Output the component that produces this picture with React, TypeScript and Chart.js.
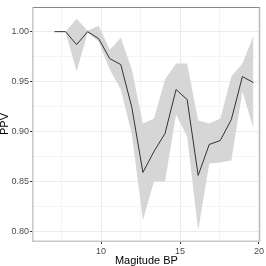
import React, { useEffect, useRef } from "react";
import { Chart, registerables } from "chart.js";

Chart.register(...registerables);

const magnitude = [7.05, 7.75, 8.45, 9.15, 9.85, 10.55, 11.25, 11.95, 12.65, 13.35, 14.05, 14.75, 15.45, 16.15, 16.85, 17.55, 18.25, 18.95, 19.65];
const ppv = [1.0, 1.0, 0.987, 1.0, 0.993, 0.973, 0.967, 0.924, 0.859, 0.88, 0.898, 0.942, 0.932, 0.856, 0.887, 0.891, 0.912, 0.955, 0.949];
const ppvUpper = [1.0, 1.0, 1.013, 1.001, 1.006, 0.982, 0.994, 0.962, 0.908, 0.913, 0.952, 0.968, 0.968, 0.911, 0.908, 0.913, 0.955, 0.968, 0.996];
const ppvLower = [1.0, 1.0, 0.96, 0.999, 0.99, 0.962, 0.942, 0.897, 0.811, 0.85, 0.85, 0.917, 0.895, 0.801, 0.868, 0.869, 0.871, 0.94, 0.903];

const xMajorTicks = [10, 15, 20];
const xMinorTicks = [7.5, 12.5, 17.5];
const yMajorTicks = [0.8, 0.85, 0.9, 0.95, 1.0];
const yMinorTicks = [0.825, 0.875, 0.925, 0.975];

const xTitle = "Magitude BP";
const yTitle = "PPV";

const FONT = "'Liberation Sans', Arial, Helvetica, sans-serif";

function isIn(v: number, arr: number[]) {
  return arr.some((a) => Math.abs(a - v) < 1e-9);
}

export default function App() {
  const ref = useRef<HTMLCanvasElement | null>(null);

  useEffect(() => {
    document.body.style.margin = "0";
    const canvas = ref.current;
    if (!canvas) return;
    const pts = (ys: number[]) => magnitude.map((x, i) => ({ x, y: ys[i] }));

    const panelBorder = {
      id: "panelBorder",
      afterDraw(chart: any) {
        const { ctx, chartArea: a } = chart;
        ctx.save();
        ctx.fillStyle = "#858585";
        ctx.fillRect(a.left, a.top, a.right - a.left, 1);
        ctx.fillStyle = "#a8a8a8";
        ctx.fillRect(a.right - 0.5, a.top, 1, a.bottom - a.top);
        ctx.fillStyle = "#c8c8c8";
        ctx.fillRect(a.left - 1, a.top, 1.5, a.bottom - a.top + 1);
        ctx.fillRect(a.left - 1, a.bottom - 0.5, a.right - a.left + 1.5, 1.5);
        ctx.restore();
      },
    };

    const gridColor = (ctx: any, major: number[]) =>
      ctx.tick && isIn(ctx.tick.value, major) ? "#ebebeb" : "#f4f4f4";
    const tickColor = (ctx: any, major: number[]) =>
      ctx.tick && isIn(ctx.tick.value, major) ? "#333333" : "rgba(0,0,0,0)";

    const chart = new Chart(canvas, {
      type: "line",
      data: {
        datasets: [
          {
            data: pts(ppv),
            borderColor: "#333333",
            borderWidth: 1,
            pointRadius: 0,
            fill: false,
            tension: 0,
          },
          {
            data: pts(ppvUpper),
            borderWidth: 0,
            borderColor: "rgba(0,0,0,0)",
            backgroundColor: "#d6d6d6",
            pointRadius: 0,
            fill: "+1",
            tension: 0,
          },
          {
            data: pts(ppvLower),
            borderWidth: 0,
            borderColor: "rgba(0,0,0,0)",
            pointRadius: 0,
            fill: false,
            tension: 0,
          },
        ],
      },
      options: {
        animation: false,
        responsive: false,
        devicePixelRatio: 1,
        layout: { padding: { top: 7, right: 4, left: 0, bottom: 0 } },
        plugins: { legend: { display: false }, tooltip: { enabled: false } },
        scales: {
          x: {
            type: "linear",
            min: 5.69,
            max: 20.05,
            afterBuildTicks: (s: any) => {
              s.ticks = [...xMinorTicks, ...xMajorTicks].sort((a, b) => a - b).map((v) => ({ value: v }));
            },
            afterFit: (s: any) => {
              s.height = 25;
            },
            ticks: {
              autoSkip: false,
              maxRotation: 0,
              padding: 2,
              color: "#4d4d4d",
              font: { family: FONT, size: 9 },
              callback: (v: any) => (isIn(Number(v), xMajorTicks) ? String(v) : ""),
            },
            grid: {
              color: (c: any) => gridColor(c, xMajorTicks),
              lineWidth: 1,
              tickLength: 3,
              tickColor: (c: any) => tickColor(c, xMajorTicks),
            },
            border: { display: false },
            title: {
              display: true,
              text: xTitle,
              color: "#000000",
              font: { family: FONT, size: 11, lineHeight: 1 },
              padding: { top: 0, bottom: 0 },
            },
          },
          y: {
            type: "linear",
            min: 0.7903,
            max: 1.0247,
            afterBuildTicks: (s: any) => {
              s.ticks = [...yMinorTicks, ...yMajorTicks].sort((a, b) => a - b).map((v) => ({ value: v }));
            },
            afterFit: (s: any) => {
              s.width = 33;
            },
            ticks: {
              autoSkip: false,
              padding: 1,
              color: "#4d4d4d",
              font: { family: FONT, size: 9 },
              callback: (v: any) => (isIn(Number(v), yMajorTicks) ? Number(v).toFixed(2) : ""),
            },
            grid: {
              color: (c: any) => gridColor(c, yMajorTicks),
              lineWidth: 1,
              tickLength: 3,
              tickColor: (c: any) => tickColor(c, yMajorTicks),
            },
            border: { display: false },
            title: {
              display: true,
              text: yTitle,
              color: "#000000",
              font: { family: FONT, size: 11, lineHeight: 1 },
              padding: { top: -1, bottom: 0 },
            },
          },
        },
      },
      plugins: [panelBorder],
    } as any);

    return () => chart.destroy();
  }, []);

  return (
    <div style={{ position: "absolute", left: 0, top: 0, width: 266, height: 266 }}>
      <canvas ref={ref} width={266} height={266} style={{ width: 266, height: 266, display: "block" }} />
    </div>
  );
}
